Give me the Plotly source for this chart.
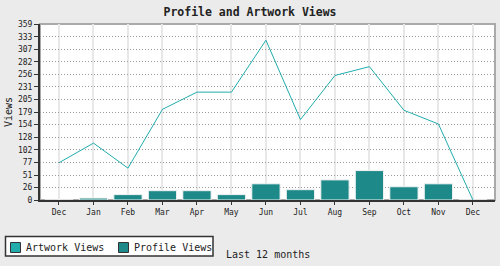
import plotly.graph_objects as go

months = ["Dec", "Jan", "Feb", "Mar", "Apr", "May", "Jun", "Jul", "Aug", "Sep", "Oct", "Nov", "Dec"]
artwork_views = [76, 116, 65, 185, 220, 220, 326, 164, 254, 272, 183, 155, 0]
profile_views = [0, 4, 11, 19, 19, 11, 33, 21, 41, 60, 27, 33, 0]
y_max = 359
y_ticks = [0, 26, 51, 77, 102, 128, 154, 179, 205, 231, 256, 282, 307, 333, 359]
legend_labels = ["Artwork Views", "Profile Views"]

ART_COLOR = "#22acac"
PROF_COLOR = "#1d8989"
x = list(range(len(months)))
font = "DejaVu Sans Mono"

# plot area in pixels: x 40..495, y 24..200
L, R, T, B = 40, 495, 24, 200
def px(xp):
    return (xp - L) / (R - L)
def py(yp):
    return (B - yp) / (B - T)

fig = go.Figure()
fig.add_trace(go.Bar(
    x=x, y=profile_views, name=legend_labels[1],
    marker=dict(color=PROF_COLOR, line=dict(color="#f2f2f2", width=1)),
    width=0.82, showlegend=False,
))
fig.add_trace(go.Scatter(
    x=x, y=artwork_views, name=legend_labels[0], mode="lines",
    line=dict(color=ART_COLOR, width=1), showlegend=False,
))

shapes = [
    dict(type="rect", xref="paper", yref="paper", x0=0, y0=0, x1=1, y1=1,
         line=dict(color="#aaaaaa", width=2), layer="below"),
    # legend box
    dict(type="rect", xref="paper", yref="paper", x0=px(5.5), x1=px(213), y0=py(236.5), y1=py(256),
         line=dict(color="#333", width=1.5), fillcolor="white"),
    dict(type="rect", xref="paper", yref="paper", x0=px(10.5), x1=px(20.5), y0=py(242.5), y1=py(252.5),
         line=dict(color="#333", width=1), fillcolor=ART_COLOR),
    dict(type="rect", xref="paper", yref="paper", x0=px(118.5), x1=px(128.5), y0=py(242.5), y1=py(252.5),
         line=dict(color="#333", width=1), fillcolor=PROF_COLOR),
]

annotations = [
    dict(text=legend_labels[0], xref="paper", yref="paper", x=px(24), y=py(247.5),
         xanchor="left", yanchor="middle", showarrow=False,
         font=dict(size=10, family=font, color="#222")),
    dict(text=legend_labels[1], xref="paper", yref="paper", x=px(132), y=py(247.5),
         xanchor="left", yanchor="middle", showarrow=False,
         font=dict(size=10, family=font, color="#222")),
    dict(text="Last 12 months", xref="paper", yref="paper", x=px(223.5), y=py(254),
         xanchor="left", yanchor="middle", showarrow=False,
         font=dict(size=10, family=font, color="#222")),
]

fig.update_layout(
    width=500, height=266,
    margin=dict(l=L, r=500 - R, t=T, b=266 - B),
    paper_bgcolor="#ebebeb",
    plot_bgcolor="white",
    font=dict(family=font, size=8, color="#222"),
    title=dict(text="<b>Profile and Artwork Views</b>", x=0.5, xanchor="center",
               y=1 - 12 / 266, yanchor="middle", font=dict(size=11.5, family=font, color="#222")),
    showlegend=False,
    shapes=shapes,
    annotations=annotations,
)

fig.update_xaxes(
    range=[-0.55, 12.64],
    tickvals=x, ticktext=months,
    showgrid=True, gridcolor="#e8e8e8", gridwidth=1.5,
    showline=True, linecolor="#333", linewidth=2,
    ticks="outside", ticklen=3, tickcolor="#333",
    zeroline=False,
    tickfont=dict(size=8, family=font),
)
fig.update_yaxes(
    range=[0, y_max],
    tickvals=y_ticks, ticktext=[str(v) for v in y_ticks],
    showgrid=True, gridcolor="#999", griddash="1px,2px", gridwidth=1,
    showline=True, linecolor="#333", linewidth=2,
    ticks="outside", ticklen=4, tickcolor="#333",
    zeroline=False,
    title=dict(text="Views", font=dict(size=10, family=font), standoff=3),
    tickfont=dict(size=8, family=font),
)

fig.write_html("out.html")
